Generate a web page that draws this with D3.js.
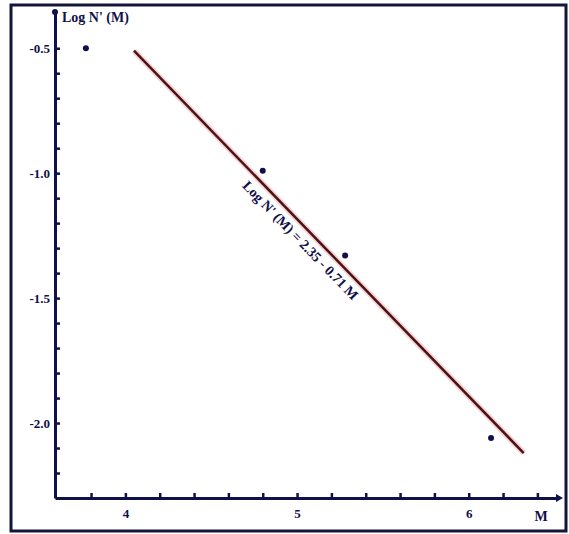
<!DOCTYPE html>
<html>
  <head>
    <meta charset="utf-8">
    <title>Log N'(M) vs M</title>
    <script src="https://cdnjs.cloudflare.com/ajax/libs/d3/7.8.5/d3.min.js"></script>
    <style>
      body { margin: 0; background: #fff; }
      text { font-family: "Liberation Serif", "DejaVu Serif", serif; font-weight: bold; fill: #10104a; }
    </style>
  </head>
  <body>
    <script>
      // observed points (magnitude M, log N'(M))
      var magnitudes = [3.77, 4.80, 5.28, 6.13];
      var logN = [-0.50, -0.99, -1.33, -2.06];

      // fitted line, end points
      var fitM = [4.05, 6.32];
      var fitLogN = [-0.51, -2.12];
      var fitLabel = "Log N' (M) = 2.35 - 0.71 M";

      var xTicks = [3.8, 4.0, 4.2, 4.4, 4.6, 4.8, 5.0, 5.2, 5.4, 5.6, 5.8, 6.0, 6.2, 6.4];
      var xLabels = [4, 5, 6];
      var yTicks = [-2.2, -2.1, -2.0, -1.9, -1.8, -1.7, -1.6, -1.5, -1.4, -1.3, -1.2, -1.1, -1.0, -0.9, -0.8, -0.7, -0.6, -0.5];
      var yLabels = [-2.0, -1.5, -1.0, -0.5];

      var W = 569, H = 534;
      var navy = "#10104a";

      var svg = d3.select("body").append("svg")
                  .attr("width", W)
                  .attr("height", H);

      // outer frame
      svg.append("rect")
         .attr("x", 11).attr("y", 5)
         .attr("width", 555).attr("height", 526)
         .attr("fill", "#fff")
         .attr("stroke", "#15153a")
         .attr("stroke-width", 3);

      var x = d3.scaleLinear().domain([3.59, 6.52]).range([55, 558]);
      var y = d3.scaleLinear().domain([-2.3, -0.355]).range([498, 12]);

      var isLabel = function (list) {
        return function (d) {
          return list.some(function (v) { return Math.abs(v - d) < 1e-6; });
        };
      };

      // y axis: ticks inside, labels only on the majors
      var yAxis = d3.axisLeft(y)
                    .tickValues(yTicks)
                    .tickSizeInner(-5)
                    .tickSizeOuter(0)
                    .tickPadding(5)
                    .tickFormat(function (d) {
                      return isLabel(yLabels)(d) ? d3.format(".1f")(d).replace("−", "-") : "";
                    });

      var gy = svg.append("g")
                  .attr("transform", "translate(" + x.range()[0] + ",0)")
                  .call(yAxis);
      gy.select(".domain").attr("stroke", navy).attr("stroke-width", 3);
      gy.selectAll(".tick line").attr("stroke", navy).attr("stroke-width", 2.5);
      gy.selectAll(".tick text").attr("font-size", 13).attr("fill", navy)
        .attr("font-family", "Liberation Serif").attr("font-weight", "bold");

      // x axis
      var xAxis = d3.axisBottom(x)
                    .tickValues(xTicks)
                    .tickSizeInner(-5)
                    .tickSizeOuter(0)
                    .tickPadding(11)
                    .tickFormat(function (d) {
                      return isLabel(xLabels)(d) ? d3.format("d")(d) : "";
                    });

      var gx = svg.append("g")
                  .attr("transform", "translate(0," + y.range()[0] + ")")
                  .call(xAxis);
      gx.select(".domain").attr("stroke", navy).attr("stroke-width", 3);
      gx.selectAll(".tick line").attr("stroke", navy).attr("stroke-width", 2.5);
      gx.selectAll(".tick text").attr("font-size", 13).attr("fill", navy)
        .attr("font-family", "Liberation Serif").attr("font-weight", "bold");

      // arrow heads
      svg.append("path")
         .attr("d", "M" + (x.range()[1] - 2) + "," + (y.range()[0] - 4) +
                    "L" + (x.range()[1] + 5) + "," + y.range()[0] +
                    "L" + (x.range()[1] - 2) + "," + (y.range()[0] + 4) + "Z")
         .attr("fill", navy);
      svg.append("circle")
         .attr("cx", x.range()[0]).attr("cy", y.range()[1])
         .attr("r", 3).attr("fill", navy);

      // axis titles
      svg.append("text")
         .attr("x", 62).attr("y", 22)
         .attr("font-size", 14)
         .text("Log N' (M)");
      svg.append("text")
         .attr("x", 541).attr("y", 521)
         .attr("text-anchor", "middle")
         .attr("font-size", 14)
         .text("M");

      // fit line with a faint reddish halo
      var fit = fitM.map(function (m, i) { return [m, fitLogN[i]]; });
      var line = d3.line()
                   .x(function (d) { return x(d[0]); })
                   .y(function (d) { return y(d[1]); });
      svg.append("path").datum(fit)
         .attr("d", line)
         .attr("stroke", "#f0a8b0").attr("stroke-width", 6)
         .attr("stroke-opacity", 0.5).attr("fill", "none");
      svg.append("path").datum(fit)
         .attr("d", line)
         .attr("stroke", "#4a1414").attr("stroke-width", 2.5)
         .attr("fill", "none");

      // data points
      var pts = magnitudes.map(function (m, i) { return [m, logN[i]]; });
      svg.selectAll("circle.pt")
         .data(pts)
         .enter()
         .append("circle")
         .attr("class", "pt")
         .attr("cx", function (d) { return x(d[0]); })
         .attr("cy", function (d) { return y(d[1]); })
         .attr("r", 3)
         .attr("fill", navy);

      // equation written just below the line, following its slope
      var p0 = [x(fitM[0]), y(fitLogN[0])];
      var p1 = [x(fitM[1]), y(fitLogN[1])];
      var angle = Math.atan2(p1[1] - p0[1], p1[0] - p0[0]) * 180 / Math.PI;
      var t = 0.45;
      var mid = [p0[0] + t * (p1[0] - p0[0]), p0[1] + t * (p1[1] - p0[1])];
      svg.append("text")
         .attr("transform", "translate(" + mid[0] + "," + mid[1] + ") rotate(" + angle + ")")
         .attr("text-anchor", "middle")
         .attr("dy", 17)
         .attr("font-size", 14)
         .text(fitLabel);
    </script>
  </body>
</html>
